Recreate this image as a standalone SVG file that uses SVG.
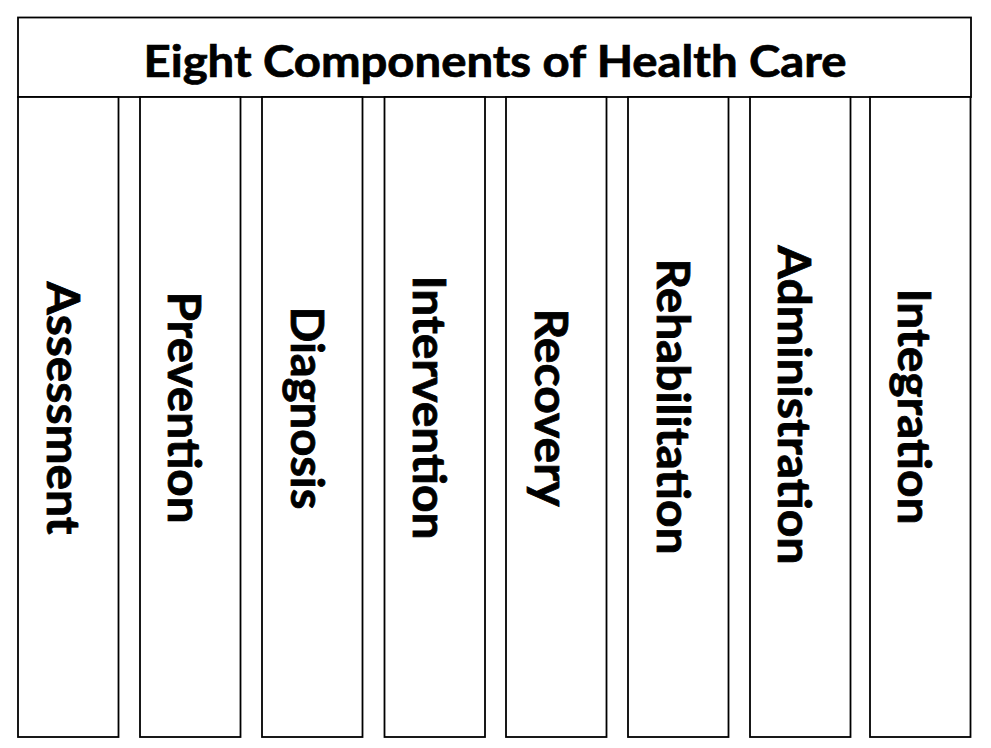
<svg xmlns="http://www.w3.org/2000/svg" width="991" height="748" viewBox="0 0 991 748">
<style>
  .box { fill: #ffffff; stroke: #000000; stroke-width: 1.8; }
  .title { font-family: Lato, "Open Sans", "Liberation Sans", sans-serif; font-weight: bold; font-size: 43px; fill: #000000; stroke: #000000; stroke-width: 0.7; text-anchor: middle; }
  .lbl { font-family: Lato, "Open Sans", "Liberation Sans", sans-serif; font-weight: bold; font-size: 46px; fill: #000000; stroke: #000000; stroke-width: 0.8; text-anchor: middle; }
</style>
<rect x="0" y="0" width="991" height="748" fill="#ffffff"/>
<g id="title">
  <rect class="box" x="18" y="17.5" width="953" height="79.5"/>
  <text class="title" x="495" y="77" textLength="703" lengthAdjust="spacingAndGlyphs">Eight Components of Health Care</text>
</g>
<g id="assessment">
  <rect class="box" x="18" y="97" width="100.5" height="640"/>
  <text class="lbl" x="47" y="408" transform="rotate(90 47 408)" textLength="253" lengthAdjust="spacingAndGlyphs">Assessment</text>
</g>
<g id="prevention">
  <rect class="box" x="140" y="97" width="100.5" height="640"/>
  <text class="lbl" x="168" y="407.5" transform="rotate(90 168 407.5)" textLength="232" lengthAdjust="spacingAndGlyphs">Prevention</text>
</g>
<g id="diagnosis">
  <rect class="box" x="262" y="97" width="100.5" height="640"/>
  <text class="lbl" x="291" y="408" transform="rotate(90 291 408)" textLength="203" lengthAdjust="spacingAndGlyphs">Diagnosis</text>
</g>
<g id="intervention">
  <rect class="box" x="384.5" y="97" width="100.5" height="640"/>
  <text class="lbl" x="413" y="407.5" transform="rotate(90 413 407.5)" textLength="264" lengthAdjust="spacingAndGlyphs">Intervention</text>
</g>
<g id="recovery">
  <rect class="box" x="506" y="97" width="100.5" height="640"/>
  <text class="lbl" x="535" y="407.5" transform="rotate(90 535 407.5)" textLength="198" lengthAdjust="spacingAndGlyphs">Recovery</text>
</g>
<g id="rehabilitation">
  <rect class="box" x="628" y="97" width="100.5" height="640"/>
  <text class="lbl" x="657" y="406.5" transform="rotate(90 657 406.5)" textLength="296" lengthAdjust="spacingAndGlyphs">Rehabilitation</text>
</g>
<g id="administration">
  <rect class="box" x="750" y="97" width="100.5" height="640"/>
  <text class="lbl" x="778" y="405" transform="rotate(90 778 405)" textLength="319" lengthAdjust="spacingAndGlyphs">Administration</text>
</g>
<g id="integration">
  <rect class="box" x="870" y="97" width="100.5" height="640"/>
  <text class="lbl" x="898" y="406.5" transform="rotate(90 898 406.5)" textLength="236" lengthAdjust="spacingAndGlyphs">Integration</text>
</g>
</svg>
